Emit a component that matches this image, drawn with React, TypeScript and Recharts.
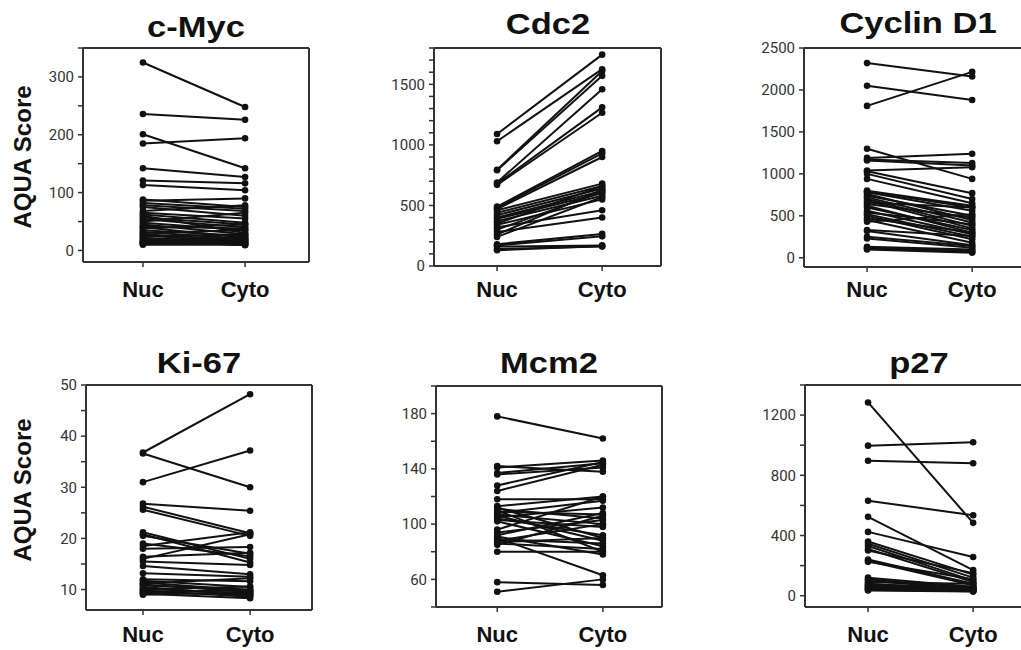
import React from 'react';
import { LineChart, Line, XAxis, YAxis, ReferenceLine } from 'recharts';

// x categories
const categories = ['Nuc', 'Cyto'];

// paired AQUA scores (nuclear -> cytoplasmic), one entry per case
const cMycNuc = [325, 236, 201, 185, 142, 121, 113, 88, 86, 82, 78, 75, 68, 65, 62, 60, 57, 54, 50, 48, 45, 42, 40, 38, 35, 32, 30, 28, 26, 24, 22, 20, 18, 16, 14, 12, 11, 10, 13, 17];
const cMycCyto = [248, 226, 142, 194, 127, 116, 104, 75, 90, 72, 68, 60, 78, 55, 48, 30, 45, 40, 65, 35, 28, 38, 22, 45, 25, 20, 35, 18, 15, 28, 12, 18, 14, 10, 20, 12, 16, 10, 24, 9];

const cdc2Nuc = [1090, 1030, 795, 790, 690, 680, 670, 490, 480, 470, 460, 440, 420, 400, 390, 370, 350, 340, 320, 300, 280, 260, 240, 180, 170, 160, 140, 130];
const cdc2Cyto = [1745, 1625, 1610, 1570, 1460, 1310, 1265, 950, 930, 900, 680, 660, 640, 620, 600, 580, 660, 550, 460, 610, 400, 630, 570, 265, 245, 170, 160, 165];

const cyclinNuc = [2320, 2050, 1810, 1300, 1190, 1170, 1160, 1040, 1030, 1000, 940, 800, 790, 780, 760, 740, 720, 700, 680, 660, 640, 620, 600, 560, 540, 520, 500, 470, 450, 430, 330, 320, 250, 230, 130, 120, 110, 100];
const cyclinCyto = [2160, 1880, 2215, 940, 1240, 1130, 1100, 1080, 770, 700, 650, 620, 600, 560, 450, 500, 420, 380, 350, 600, 480, 300, 330, 280, 400, 250, 220, 300, 180, 520, 260, 150, 140, 120, 100, 80, 70, 60];

const ki67Nuc = [36.8, 36.6, 31, 26.8, 26.2, 25.6, 21.2, 20.8, 20.5, 19, 18.5, 18, 16.4, 16, 15.5, 14.6, 13.2, 12, 11.7, 11.4, 11.2, 11, 10.8, 10.5, 10.2, 10, 9.8, 9.6, 9.4, 9.2, 9];
const ki67Cyto = [48.2, 30, 37.2, 25.4, 21, 20.5, 16, 15.3, 17, 16.5, 21.2, 18.3, 17.2, 20.8, 14.8, 13, 12.5, 11.6, 10.5, 9.8, 12.2, 9.5, 10, 8.9, 9.2, 10.6, 8.6, 9.8, 9, 8.3, 9.5];

const mcm2Nuc = [178, 142, 141, 137, 136, 128, 124, 118, 113, 112, 111, 110, 109, 108, 107, 106, 105, 104, 103, 102, 96, 94, 92, 91, 90, 89, 88, 87, 86, 85, 80, 58, 51];
const mcm2Cyto = [162, 138, 146, 144, 141, 145, 143, 118, 120, 90, 104, 80, 107, 117, 100, 88, 112, 92, 98, 84, 120, 103, 108, 78, 63, 86, 100, 90, 82, 106, 80, 56, 60];

const p27Nuc = [1284, 997, 897, 631, 524, 424, 360, 345, 330, 310, 300, 240, 230, 225, 120, 110, 100, 90, 80, 75, 70, 65, 60, 55, 50, 45, 40, 38, 35];
const p27Cyto = [484, 1020, 880, 535, 170, 257, 140, 120, 100, 90, 150, 80, 70, 110, 60, 50, 45, 80, 40, 55, 35, 30, 45, 60, 40, 35, 30, 50, 28];

// y ticks
const cMycTicks = [0, 50, 100, 150, 200, 250, 300, 350];
const cMycLabels = [0, 100, 200, 300];
const cdc2Ticks = [0, 100, 200, 300, 400, 500, 600, 700, 800, 900, 1000, 1100, 1200, 1300, 1400, 1500, 1600, 1700, 1800];
const cdc2Labels = [0, 500, 1000, 1500];
const cyclinTicks = [0, 500, 1000, 1500, 2000, 2500];
const ki67Ticks = [10, 15, 20, 25, 30, 35, 40, 45, 50];
const ki67Labels = [10, 20, 30, 40, 50];
const mcm2Ticks = [40, 60, 80, 100, 120, 140, 160, 180, 200];
const mcm2Labels = [60, 100, 140, 180];
const p27Ticks = [0, 200, 400, 600, 800, 1000, 1200, 1400];
const p27Labels = [0, 400, 800, 1200];

const FONT = '"Liberation Sans", Arial, sans-serif';

function Panel({ title, nuc, cyto, box, yDomain, yTicks, yLabels, xDomain, xGap, titleBase, showYLabel }: any) {
  const [L, T, R, B] = box;
  const cx = L - 70;
  const cy = T - 10;
  const cw = R - L + 80;
  const ch = B - T + 60;
  const data = categories.map((c, i) => {
    const row: any = { x: i };
    nuc.forEach((v: number, k: number) => {
      row['s' + k] = i === 0 ? v : cyto[k];
    });
    return row;
  });
  const center = (L + R) / 2;
  return (
    <>
      <div style={{ position: 'absolute', left: center - 150, width: 300, top: titleBase - 32, height: 38, textAlign: 'center', fontFamily: FONT, fontWeight: 'bold', fontSize: 30, lineHeight: '38px', color: '#111', transform: 'scaleX(1.15)' }}>{title}</div>
      {showYLabel && (
        <div style={{ position: 'absolute', left: 23 - 100, top: (T + B) / 2 - 14 + (T > 300 ? -8 : 2), width: 200, height: 28, textAlign: 'center', fontFamily: FONT, fontWeight: 'bold', fontSize: 24, lineHeight: '28px', color: '#111', transform: 'rotate(-90deg)' }}>AQUA Score</div>
      )}
      <div style={{ position: 'absolute', left: cx, top: cy }}>
        <LineChart width={cw} height={ch} data={data} margin={{ top: 10, right: 10, bottom: 10, left: 10 }}>
          <XAxis dataKey="x" type="number" domain={xDomain} allowDataOverflow ticks={[0, 1]} height={40}
            tickFormatter={(v: number) => categories[v] ?? ''}
            axisLine={{ stroke: '#333', strokeWidth: 2 }} tickLine={{ stroke: '#333', strokeWidth: 1.5 }} tickSize={5} tickMargin={xGap}
            tick={{ fill: '#111', fontSize: 22, fontWeight: 'bold', fontFamily: FONT }} />
          <YAxis type="number" domain={yDomain} allowDataOverflow ticks={yTicks} width={60} interval={0}
            tickFormatter={(v: number) => (yLabels.includes(v) ? String(v) : '')}
            axisLine={{ stroke: '#333', strokeWidth: 2 }} tickLine={{ stroke: '#333', strokeWidth: 1.5 }} tickSize={5} tickMargin={4}
            tick={{ fill: '#333', fontSize: 15, fontFamily: 'Roboto, sans-serif' }} />
          <ReferenceLine y={yDomain[1]} stroke="#333" strokeWidth={2} />
          <ReferenceLine x={xDomain[1]} stroke="#333" strokeWidth={2} />
          {nuc.map((_: number, k: number) => (
            <Line key={k} dataKey={'s' + k} type="linear" stroke="#111" strokeWidth={2}
              dot={{ r: 3.3, fill: '#111', stroke: '#111', strokeWidth: 0 }} activeDot={false} isAnimationActive={false} />
          ))}
        </LineChart>
      </div>
    </>
  );
}

export default function App() {
  return (
    <div style={{ position: 'absolute', left: 0, top: 0, width: 1021, height: 650, overflow: 'hidden', background: '#fff' }}>
      <Panel title="c-Myc" nuc={cMycNuc} cyto={cMycCyto} box={[83, 48, 309, 262]} yDomain={[-20, 350]} yTicks={cMycTicks} yLabels={cMycLabels} xDomain={[-0.587, 1.626]} xGap={14} titleBase={40} showYLabel />
      <Panel title="Cdc2" nuc={cdc2Nuc} cyto={cdc2Cyto} box={[434, 48, 661, 266]} yDomain={[0, 1800]} yTicks={cdc2Ticks} yLabels={cdc2Labels} xDomain={[-0.6, 1.56]} xGap={10} titleBase={37} />
      <Panel title="Cyclin D1" nuc={cyclinNuc} cyto={cyclinCyto} box={[804, 48, 1031, 267]} yDomain={[-110, 2500]} yTicks={cyclinTicks} yLabels={cyclinTicks} xDomain={[-0.6, 1.56]} xGap={9} titleBase={36} />
      <Panel title="Ki-67" nuc={ki67Nuc} cyto={ki67Cyto} box={[86, 385, 312, 610]} yDomain={[6, 50]} yTicks={ki67Ticks} yLabels={ki67Labels} xDomain={[-0.532, 1.578]} xGap={11} titleBase={376} showYLabel />
      <Panel title="Mcm2" nuc={mcm2Nuc} cyto={mcm2Cyto} box={[436, 386, 662, 607]} yDomain={[40, 200]} yTicks={mcm2Ticks} yLabels={mcm2Labels} xDomain={[-0.58, 1.56]} xGap={14} titleBase={376} />
      <Panel title="p27" nuc={p27Nuc} cyto={p27Cyto} box={[805, 385, 1032, 607]} yDomain={[-75, 1400]} yTicks={p27Ticks} yLabels={p27Labels} xDomain={[-0.6, 1.56]} xGap={14} titleBase={376} />
    </div>
  );
}
